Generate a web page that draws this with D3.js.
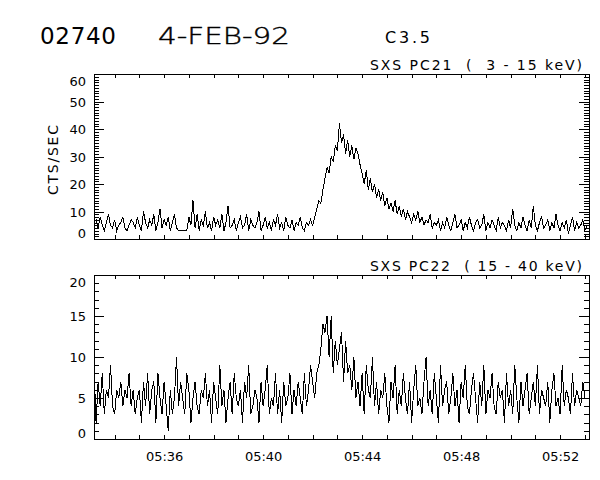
<!DOCTYPE html>
<html>
<head>
<meta charset="utf-8">
<script src="https://cdn.jsdelivr.net/npm/d3@7"></script>
<style>
  body { margin: 0; background: #fff; }
  text { font-family: "DejaVu Sans", sans-serif; fill: #000; }
</style>
</head>
<body>
<svg id="chart" width="600" height="480"></svg>
<script>
// SXS PC21 (3-15 keV), counts/sec, 5 s samples from 05:33:10
var pc21 = [
  6,7,4,8,5,3,6,9,5,4,7,3,5,6,8,4,3,5,7,6,
  4,8,5,3,10,6,4,7,5,9,3,6,11,4,7,5,8,3,6,9,
  4,3,3,3,3,3,8,5,14,4,
  9,3,7,5,10,4,6,3,8,5,7,4,9,3,6,12,4,5,7,3,
  6,8,4,5,9,3,7,5,4,6,10,3,5,8,4,6,3,7,5,9,
  4,6,3,8,5,4,7,3,6,5,8,4,3,6,5,7,
  5,8,11,14,13,18,22,26,24,30,28,34,32,
  42,35,38,31,36,30,34,29,33,31,
  27,24,20,25,18,22,17,20,15,18,
  14,17,12,15,11,13,10,14,9,12,
  8,11,7,10,8,6,9,7,10,6,
  8,5,7,6,9,4,6,
  5,7,3,6,4,8,5,3,6,9,4,5,7,3,6,4,8,5,3,6,
  7,4,5,9,3,6,4,7,5,3,8,4,6,5,3,7,4,11,5,3,
  6,4,8,5,3,7,4,12,5,3,6,8,4,5,7,3,6,4,9,5,
  3,6,4,7,2,5,8,3,6,4,5,7,3,5
];

// SXS PC22 (15-40 keV)
var pc22 = [
  9,2,7,4,8,3,6,5,9,4,3,6,5,7,4,6,5,8,4,6,
  3,5,6,2,7,4,8,3,6,7,2,8,5,3,7,4,1,6,3,5,
  10,4,7,5,3,8,6,2,5,7,4,3,6,5,8,4,6,2,7,5,
  3,9,4,6,2,5,7,3,8,5,4,6,2,7,5,9,3,4,6,5,
  2,7,4,6,9,3,5,4,8,3,6,2,7,4,5,8,3,6,4,7,
  5,3,8,4,6,9,7,5,8,9,11,14,13,15,10,15,8,12,9,11,
  13,7,12,8,9,6,10,5,7,4,8,3,9,6,5,10,4,7,3,6,
  5,8,4,2,7,5,9,3,6,4,8,5,3,7,2,6,9,4,5,3,
  7,10,4,6,3,8,5,2,9,4,6,7,3,5,8,4,6,2,7,5,
  9,4,3,6,8,5,2,7,4,9,3,6,5,8,4,3,7,5,6,2,
  8,4,6,3,9,5,2,7,4,6,8,3,5,7,4,9,3,6,5,4,
  7,2,6,8,4,5,3,9,4,6,5,3,8,4,6,5,4,7,5,5
];

var startTime = Date.UTC(1992, 1, 4, 5, 33, 10);
var stepMs = 5000;
var panelTitles = ["SXS PC21  (  3 - 15 keV)", "SXS PC22  ( 15 - 40 keV)"];
var yDomains = [[0, 60], [0, 20]];
var yMajor = [10, 5];
var xLabelMinutes = [36, 40, 44, 48, 52];

var svg = d3.select("#chart");
var left = 94, right = 589;

var x = d3.scaleUtc()
  .domain([new Date(startTime), new Date(startTime + pc21.length * stepMs)])
  .range([left, right]);

// header
svg.append("text").attr("x", 40).attr("y", 44)
  .style("font-size", "23px")
  .attr("textLength", 76).text("02740");
svg.append("text").attr("x", 158).attr("y", 44)
  .style("font-size", "23px").style("font-weight", "300")
  .attr("stroke", "#000").attr("stroke-width", 0.4)
  .attr("textLength", 132).attr("lengthAdjust", "spacingAndGlyphs")
  .text("4-FEB-92");
svg.append("text").attr("x", 385).attr("y", 43)
  .style("font-size", "16px")
  .attr("textLength", 45).text("C3.5");

function drawPanel(values, top, bottom, k, showX) {
  var y = d3.scaleLinear().domain(yDomains[k]).range([bottom, top]);
  var g = svg.append("g");
  var lo = yDomains[k][0], hi = yDomains[k][1];

  var majors = d3.range(lo, hi + 0.001, yMajor[k]);
  var minors = d3.range(lo, hi + 0.001, 1);

  // minor ticks, both sides
  g.append("g").attr("transform", "translate(" + left + ",0)")
    .call(d3.axisLeft(y).tickValues(minors).tickSize(-5).tickFormat(""));
  g.append("g").attr("transform", "translate(" + right + ",0)")
    .call(d3.axisRight(y).tickValues(minors).tickSize(-5).tickFormat(""));

  // major ticks with labels
  var yl = g.append("g").attr("transform", "translate(" + left + ",0)")
    .call(d3.axisLeft(y).tickValues(majors).tickSize(-10).tickPadding(8)
      .tickFormat(d3.format("d")));
  g.append("g").attr("transform", "translate(" + right + ",0)")
    .call(d3.axisRight(y).tickValues(majors).tickSize(-10).tickFormat(""));

  // IDL keeps the end labels inside the frame
  yl.selectAll(".tick text").attr("dy", function(d) {
    if (d === hi) return "0.85em";
    if (d === lo) return "-0.1em";
    return "0.35em";
  });

  var minuteTicks = d3.utcMinute.every(1).range(x.domain()[0], x.domain()[1]);
  g.append("g").attr("transform", "translate(0," + bottom + ")")
    .call(d3.axisBottom(x).tickValues(minuteTicks).tickSize(-4).tickPadding(13)
      .tickFormat(function(d) {
        if (showX && xLabelMinutes.indexOf(d.getUTCMinutes()) >= 0) return d3.utcFormat("%H:%M")(d);
        return "";
      }));
  g.append("g").attr("transform", "translate(0," + top + ")")
    .call(d3.axisTop(x).tickValues(minuteTicks).tickSize(-4).tickFormat(""));

  g.selectAll(".domain").remove();
  g.selectAll(".tick line").attr("stroke", "#000").attr("shape-rendering", "crispEdges");
  g.selectAll(".tick text").style("font-size", "13px")
    .style("font-family", "DejaVu Sans, sans-serif").attr("fill", "#000");

  g.append("rect").attr("x", left).attr("y", top)
    .attr("width", right - left).attr("height", bottom - top)
    .attr("fill", "none").attr("stroke", "#000").attr("shape-rendering", "crispEdges");

  var line = d3.line()
    .x(function(d, i) { return x(new Date(startTime + i * stepMs)); })
    .y(function(d) { return y(d); });
  g.append("path").datum(values)
    .attr("d", line).attr("fill", "none").attr("stroke", "#000").attr("stroke-width", 1)
    .attr("shape-rendering", "crispEdges");

  g.append("text").attr("x", 582).attr("y", top - 4)
    .attr("text-anchor", "end").attr("textLength", 212)
    .attr("xml:space", "preserve").style("white-space", "pre")
    .style("font-size", "14px")
    .text(panelTitles[k]);
  return y;
}

drawPanel(pc21, 74, 239, 0, false);
drawPanel(pc22, 275, 439, 1, true);

svg.append("text")
  .attr("transform", "translate(58,160) rotate(-90)")
  .attr("text-anchor", "middle")
  .style("font-size", "14px")
  .attr("textLength", 70)
  .text("CTS/SEC");
</script>
</body>
</html>
